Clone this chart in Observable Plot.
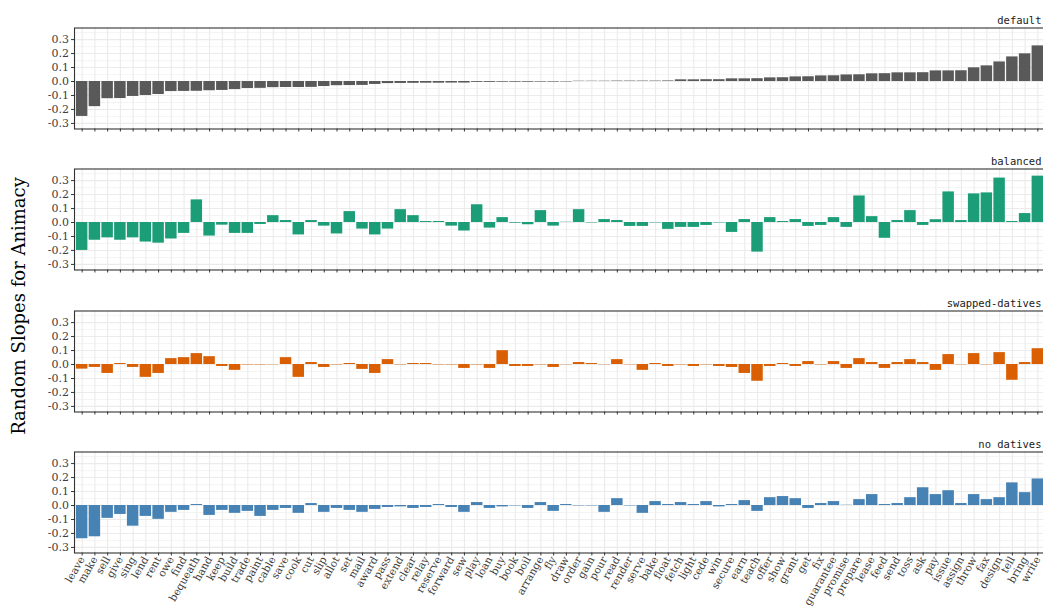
<!DOCTYPE html>
<html><head><meta charset="utf-8">
<script src="https://cdn.jsdelivr.net/npm/d3@7"></script>
<script src="https://cdn.jsdelivr.net/npm/@observablehq/plot@0.6"></script>
<style>
body{margin:0;background:#fff;}
#chart{position:relative;width:1043px;height:607px;overflow:hidden;background:#fff;}
#chart svg{position:absolute;left:0;}
#ytitle{position:absolute;left:18px;top:306px;transform:translate(-50%,-50%) rotate(-90deg);white-space:nowrap;font-family:"DejaVu Serif",serif;font-size:18px;color:#000;}
</style></head><body><div id="chart"><div id="ytitle">Random Slopes for Animacy</div></div>
<script>
const verbs = ["leave","make","sell","give","sing","lend","rent","owe","find","bequeath","hand","keep","build","trade","paint","cable","save","cook","cut","slip","allot","set","mail","award","pass","extend","clear","relay","reserve","forward","sew","play","loan","buy","book","boil","arrange","fly","draw","order","gain","pour","read","render","serve","bake","float","fetch","light","cede","win","secure","earn","teach","offer","show","grant","get","fix","guarantee","promise","prepare","lease","feed","send","toss","ask","pay","issue","assign","throw","fax","design","tell","bring","write"];

const defaultSlopes = [-0.250,-0.180,-0.123,-0.122,-0.107,-0.100,-0.093,-0.072,-0.071,-0.070,-0.066,-0.064,-0.058,-0.050,-0.049,-0.044,-0.043,-0.043,-0.042,-0.036,-0.030,-0.029,-0.028,-0.021,-0.015,-0.014,-0.013,-0.012,-0.012,-0.011,-0.011,-0.006,-0.006,-0.005,-0.005,-0.005,-0.004,-0.004,-0.003,0.002,0.002,0.002,0.003,0.003,0.003,0.003,0.004,0.012,0.012,0.013,0.013,0.019,0.019,0.020,0.026,0.027,0.033,0.034,0.040,0.041,0.047,0.048,0.055,0.056,0.062,0.062,0.063,0.076,0.076,0.077,0.098,0.112,0.140,0.176,0.198,0.255];

const balancedSlopes = [-0.200,-0.127,-0.110,-0.127,-0.110,-0.140,-0.148,-0.118,-0.078,0.162,-0.097,-0.019,-0.078,-0.078,-0.014,0.049,0.014,-0.089,0.014,-0.026,-0.082,0.078,-0.047,-0.089,-0.047,0.092,0.049,0.007,0.007,-0.026,-0.061,0.127,-0.040,0.035,-0.005,-0.016,0.085,-0.026,0.002,0.092,-0.003,0.021,0.014,-0.028,-0.028,-0.003,-0.049,-0.035,-0.035,-0.021,-0.003,-0.071,0.021,-0.212,0.035,0.007,0.021,-0.028,-0.021,0.035,-0.035,0.190,0.042,-0.113,0.014,0.085,-0.021,0.020,0.219,0.014,0.205,0.212,0.318,0.007,0.064,0.332];

const swappedSlopes = [-0.033,-0.021,-0.064,0.007,-0.021,-0.092,-0.064,0.042,0.049,0.078,0.056,-0.014,-0.042,-0.003,-0.003,-0.002,0.049,-0.092,0.014,-0.021,-0.003,0.007,-0.035,-0.064,0.035,-0.003,0.007,0.007,-0.003,-0.003,-0.028,-0.003,-0.028,0.099,-0.014,-0.014,-0.003,-0.021,-0.002,0.014,0.007,-0.002,0.035,-0.002,-0.042,0.007,-0.014,-0.003,-0.014,-0.003,-0.014,-0.021,-0.064,-0.120,-0.014,0.007,-0.014,0.021,-0.003,0.021,-0.028,0.042,0.014,-0.028,0.014,0.035,0.014,-0.042,0.071,-0.002,0.078,-0.002,0.085,-0.113,0.014,0.113];

const noDativesSlopes = [-0.238,-0.224,-0.092,-0.064,-0.148,-0.078,-0.099,-0.049,-0.035,0.007,-0.071,-0.035,-0.056,-0.042,-0.078,-0.035,-0.021,-0.056,0.014,-0.049,-0.021,-0.035,-0.049,-0.028,-0.014,-0.010,-0.021,-0.014,0.007,-0.014,-0.049,0.021,-0.021,-0.010,-0.003,-0.021,0.021,-0.042,0.007,-0.003,-0.003,-0.049,0.049,-0.003,-0.056,0.028,0.007,0.021,0.007,0.028,-0.010,0.007,0.035,-0.042,0.056,0.064,0.049,-0.021,0.014,0.028,0.002,0.042,0.078,0.007,0.014,0.056,0.127,0.078,0.106,0.014,0.078,0.042,0.056,0.162,0.092,0.190];

const panelLabels = ["default","balanced","swapped-datives","no datives"];
const panelColors = ["#595959","#1b9e77","#d95f02","#4682b4"];
const yTicks = [-0.3,-0.2,-0.1,0,0.1,0.2,0.3];
const yMinor = [-0.25,-0.15,-0.05,0.05,0.15,0.25,0.35];

const seriesList = [defaultSlopes, balancedSlopes, swappedSlopes, noDativesSlopes];
const chart = document.getElementById("chart");
const step = 141.3, panelTop = 27.5, panelH = 101;

seriesList.forEach((vals, i) => {
  const last = i === seriesList.length - 1;
  const top = i * step;
  const h = last ? 607 - top : step;
  const rows = verbs.map((v, j) => ({verb: v, value: vals[j]}));
  const svg = Plot.plot({
    width: 1043,
    height: h,
    marginLeft: 74,
    marginRight: -2,
    marginTop: panelTop,
    marginBottom: h - panelTop - panelH,
    style: {background: "transparent", fontFamily: "DejaVu Serif, serif", fontSize: "11px", color: "#3d3d3d", overflow: "visible"},
    x: {type: "band", domain: verbs, paddingInner: 0.1, paddingOuter: 0.15, align: 0.5, label: null},
    y: {domain: [-0.34, 0.383], label: null},
    marks: [
      Plot.frame({fill: "white"}),
      Plot.ruleX(verbs, {x: d => d, stroke: "#ebebeb", strokeWidth: 1.1}),
      Plot.ruleY(yMinor, {stroke: "#ebebeb", strokeWidth: 0.55}),
      Plot.ruleY(yTicks, {stroke: "#ebebeb", strokeWidth: 1.1}),
      Plot.barY(rows, {x: "verb", y: "value", fill: panelColors[i]}),
      Plot.frame({stroke: "#333333", strokeWidth: 1.1}),
      Plot.axisY(yTicks, {tickSize: 3, tickPadding: 2.5, tickFormat: d => d.toFixed(1), stroke: "#333333", fill: "#3d3d3d", fontSize: 11, label: null}),
      last
        ? Plot.axisX({tickSize: 3, tickPadding: 1.5, tickRotate: -60, stroke: "#333333", fill: "#3d3d3d", fontSize: 10.5, label: null})
        : Plot.axisX({tickSize: 3, text: null, stroke: "#333333", label: null}),
      Plot.text([panelLabels[i]], {frameAnchor: "top-right", text: d => d, dy: -11, dx: -4, textAnchor: "end", fontFamily: "DejaVu Sans Mono, monospace", fontSize: 10.5, fill: "#1a1a1a"})
    ]
  });
  svg.style.top = top + "px";
  chart.appendChild(svg);
});
</script>
</body></html>
